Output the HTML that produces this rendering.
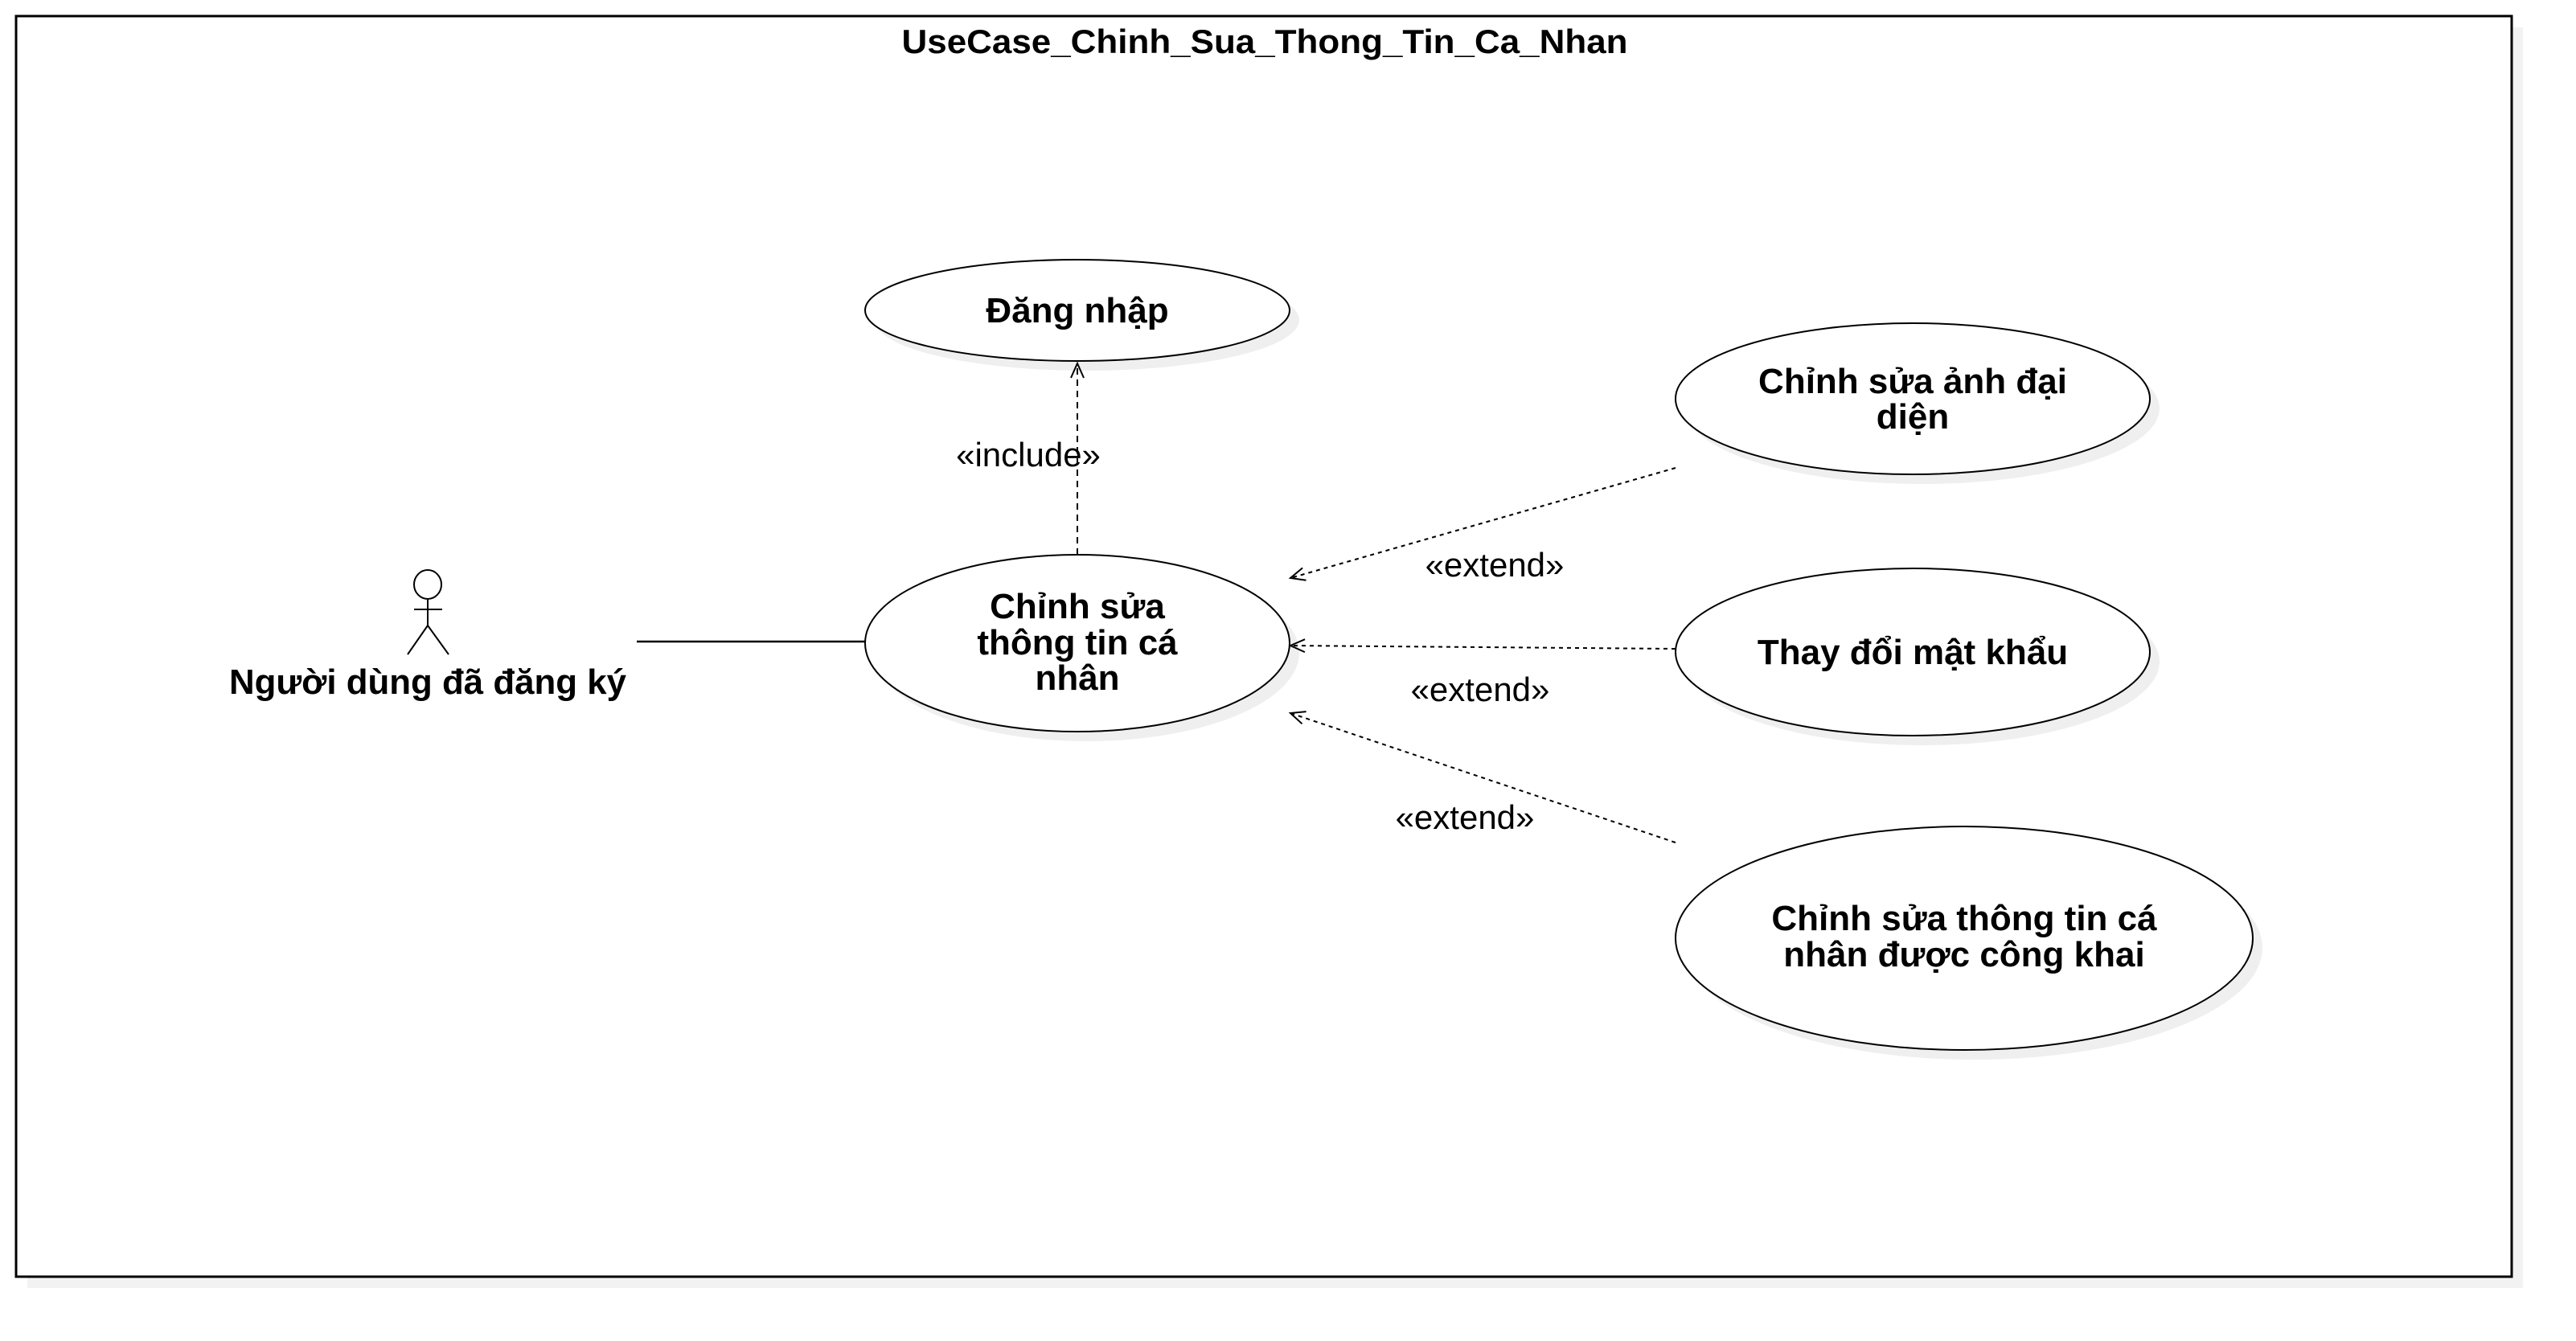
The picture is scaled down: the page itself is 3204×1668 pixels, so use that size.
<!DOCTYPE html>
<html><head><meta charset="utf-8"><style>
html,body{margin:0;padding:0;background:#fff;}
svg{display:block;}
text{font-family:"Liberation Sans",sans-serif;}
.b{font-weight:bold;font-size:44px;text-anchor:middle;}
.t{font-weight:bold;font-size:42px;text-anchor:middle;}
.n{font-size:42px;text-anchor:middle;}
</style></head><body>
<svg width="3204" height="1668" viewBox="0 0 3204 1668" xmlns="http://www.w3.org/2000/svg">
<defs>
<marker id="ah" markerWidth="24" markerHeight="24" refX="20" refY="12" orient="auto" markerUnits="userSpaceOnUse">
<path d="M2,4 L20,12 L2,20" fill="none" stroke="#000" stroke-width="2"/>
</marker>
</defs>
<rect x="34" y="34" width="3104" height="1568" fill="#f2f2f2"/>
<rect x="20" y="20" width="3104" height="1568" fill="#fff" stroke="#000" stroke-width="3"/>
<text x="1573" y="66" class="t" textLength="903" lengthAdjust="spacingAndGlyphs">UseCase_Chinh_Sua_Thong_Tin_Ca_Nhan</text>

<g fill="#efefef">
<ellipse cx="1352" cy="398" rx="264" ry="63"/>
<ellipse cx="1352" cy="812" rx="264" ry="110"/>
<ellipse cx="2391" cy="508" rx="295" ry="94"/>
<ellipse cx="2391" cy="823" rx="295" ry="104"/>
<ellipse cx="2455" cy="1179" rx="359" ry="139"/>
</g>
<g fill="#fff" stroke="#000" stroke-width="2">
<ellipse cx="1340" cy="386" rx="264" ry="63"/>
<ellipse cx="1340" cy="800" rx="264" ry="110"/>
<ellipse cx="2379" cy="496" rx="295" ry="94"/>
<ellipse cx="2379" cy="811" rx="295" ry="104"/>
<ellipse cx="2443" cy="1167" rx="359" ry="139"/>
</g>
<text x="1340" y="401" class="b">Đăng nhập</text>
<text x="1340" y="769" class="b">Chỉnh sửa</text>
<text x="1340" y="814" class="b">thông tin cá</text>
<text x="1340" y="858" class="b">nhân</text>
<text x="2379" y="489" class="b">Chỉnh sửa ảnh đại</text>
<text x="2379" y="533" class="b">diện</text>
<text x="2379" y="826" class="b">Thay đổi mật khẩu</text>
<text x="2443" y="1157" class="b">Chỉnh sửa thông tin cá</text>
<text x="2443" y="1202" class="b">nhân được công khai</text>

<g fill="none" stroke="#000" stroke-width="2">
<ellipse cx="532" cy="727" rx="17" ry="18"/>
<line x1="532" y1="745" x2="532" y2="778"/>
<line x1="515" y1="758" x2="550" y2="758"/>
<line x1="532" y1="778" x2="507" y2="814"/>
<line x1="532" y1="778" x2="558" y2="814"/>
</g>
<text x="532" y="863" class="b" textLength="494" lengthAdjust="spacingAndGlyphs">Người dùng đã đăng ký</text>
<line x1="792" y1="798" x2="1076" y2="798" stroke="#000" stroke-width="2.5"/>

<line x1="1340" y1="690" x2="1340" y2="452" stroke="#000" stroke-width="2" stroke-dasharray="8,6" marker-end="url(#ah)"/>
<text x="1279" y="580" class="n">«include»</text>

<g stroke="#000" stroke-width="2" stroke-dasharray="5,5" fill="none">
<line x1="2084" y1="582" x2="1605" y2="719" marker-end="url(#ah)"/>
<line x1="2084" y1="807" x2="1605" y2="803" marker-end="url(#ah)"/>
<line x1="2084" y1="1048" x2="1605" y2="887" marker-end="url(#ah)"/>
</g>
<text x="1859" y="717" class="n">«extend»</text>
<text x="1841" y="872" class="n">«extend»</text>
<text x="1822" y="1031" class="n">«extend»</text>
</svg>
</body></html>
